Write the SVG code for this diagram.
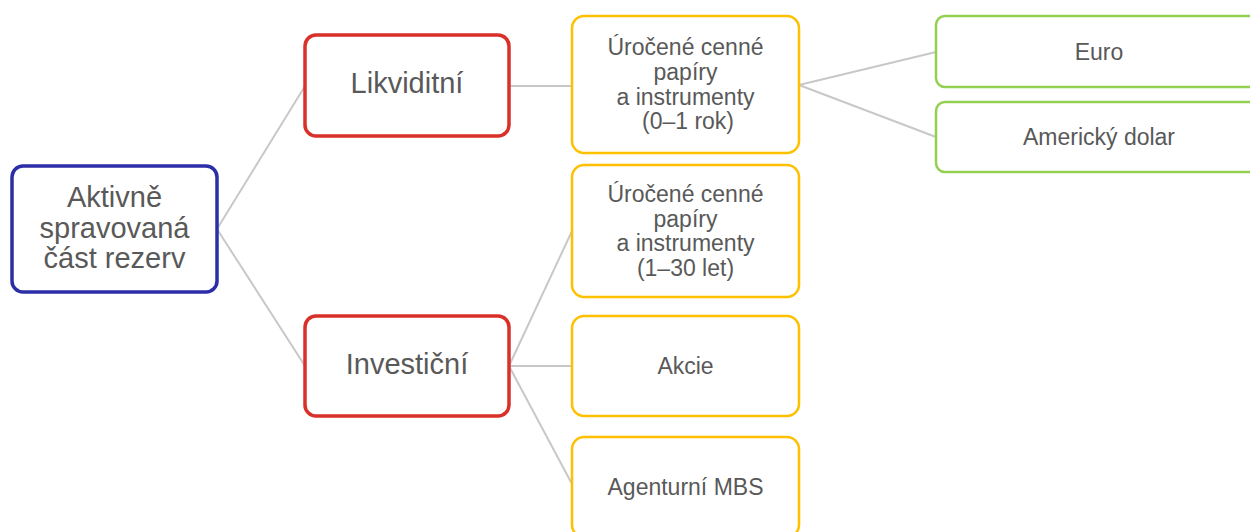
<svg xmlns="http://www.w3.org/2000/svg" width="1250" height="532" viewBox="0 0 1250 532">
<style>
.n rect{fill:#fff;}
.root rect{stroke:#2b2ea6;stroke-width:3.5;}
.l1 rect{stroke:#d9302a;stroke-width:3.5;}
.l2 rect{stroke:#ffc000;stroke-width:2.5;}
.l3 rect{stroke:#92d050;stroke-width:2.5;}
text{font-family:"Liberation Sans",Arial,sans-serif;fill:#595959;text-anchor:middle;}
.big{font-size:29px;}
.sm{font-size:23px;}
#connectors line{stroke:#c8c8c8;stroke-width:2;}
</style>
<rect width="1250" height="532" fill="#fff"/>
<g id="connectors">
<line x1="217" y1="229" x2="305" y2="86"/>
<line x1="217" y1="229" x2="305" y2="366"/>
<line x1="509" y1="86" x2="572" y2="86"/>
<line x1="799" y1="85" x2="936" y2="52"/>
<line x1="799" y1="85" x2="936" y2="137"/>
<line x1="509" y1="366" x2="572" y2="231"/>
<line x1="509" y1="366" x2="572" y2="366"/>
<line x1="509" y1="366" x2="572" y2="484"/>
</g>
<g id="root" class="n root">
<rect x="12" y="166" width="205" height="126" rx="11"/>
<text class="big" x="114.5" y="207">Aktivně</text>
<text class="big" x="114.5" y="238">spravovaná</text>
<text class="big" x="114.5" y="268">část rezerv</text>
</g>
<g id="likviditni" class="n l1">
<rect x="305" y="35" width="204" height="101" rx="11"/>
<text class="big" x="407" y="93">Likviditní</text>
</g>
<g id="investicni" class="n l1">
<rect x="305" y="316" width="204" height="100" rx="11"/>
<text class="big" x="407" y="374">Investiční</text>
</g>
<g id="cp01" class="n l2">
<rect x="572" y="16" width="227" height="137" rx="12"/>
<text class="sm" x="685.5" y="55">Úročené cenné</text>
<text class="sm" x="685.5" y="80">papíry</text>
<text class="sm" x="685.5" y="105">a instrumenty</text>
<text class="sm" x="688" y="129">(0–1 rok)</text>
</g>
<g id="cp130" class="n l2">
<rect x="572" y="165" width="227" height="132" rx="12"/>
<text class="sm" x="685.5" y="202">Úročené cenné</text>
<text class="sm" x="685.5" y="227">papíry</text>
<text class="sm" x="685.5" y="251">a instrumenty</text>
<text class="sm" x="685.5" y="276">(1–30 let)</text>
</g>
<g id="akcie" class="n l2">
<rect x="572" y="316" width="227" height="100" rx="12"/>
<text class="sm" x="685.5" y="374">Akcie</text>
</g>
<g id="mbs" class="n l2">
<rect x="572" y="437" width="227" height="100" rx="12"/>
<text class="sm" x="685.5" y="495">Agenturní MBS</text>
</g>
<g id="euro" class="n l3">
<rect x="936" y="16" width="330" height="71" rx="9"/>
<text class="sm" x="1099" y="60">Euro</text>
</g>
<g id="usd" class="n l3">
<rect x="936" y="102" width="330" height="70" rx="9"/>
<text class="sm" x="1099" y="145">Americký dolar</text>
</g>
</svg>
